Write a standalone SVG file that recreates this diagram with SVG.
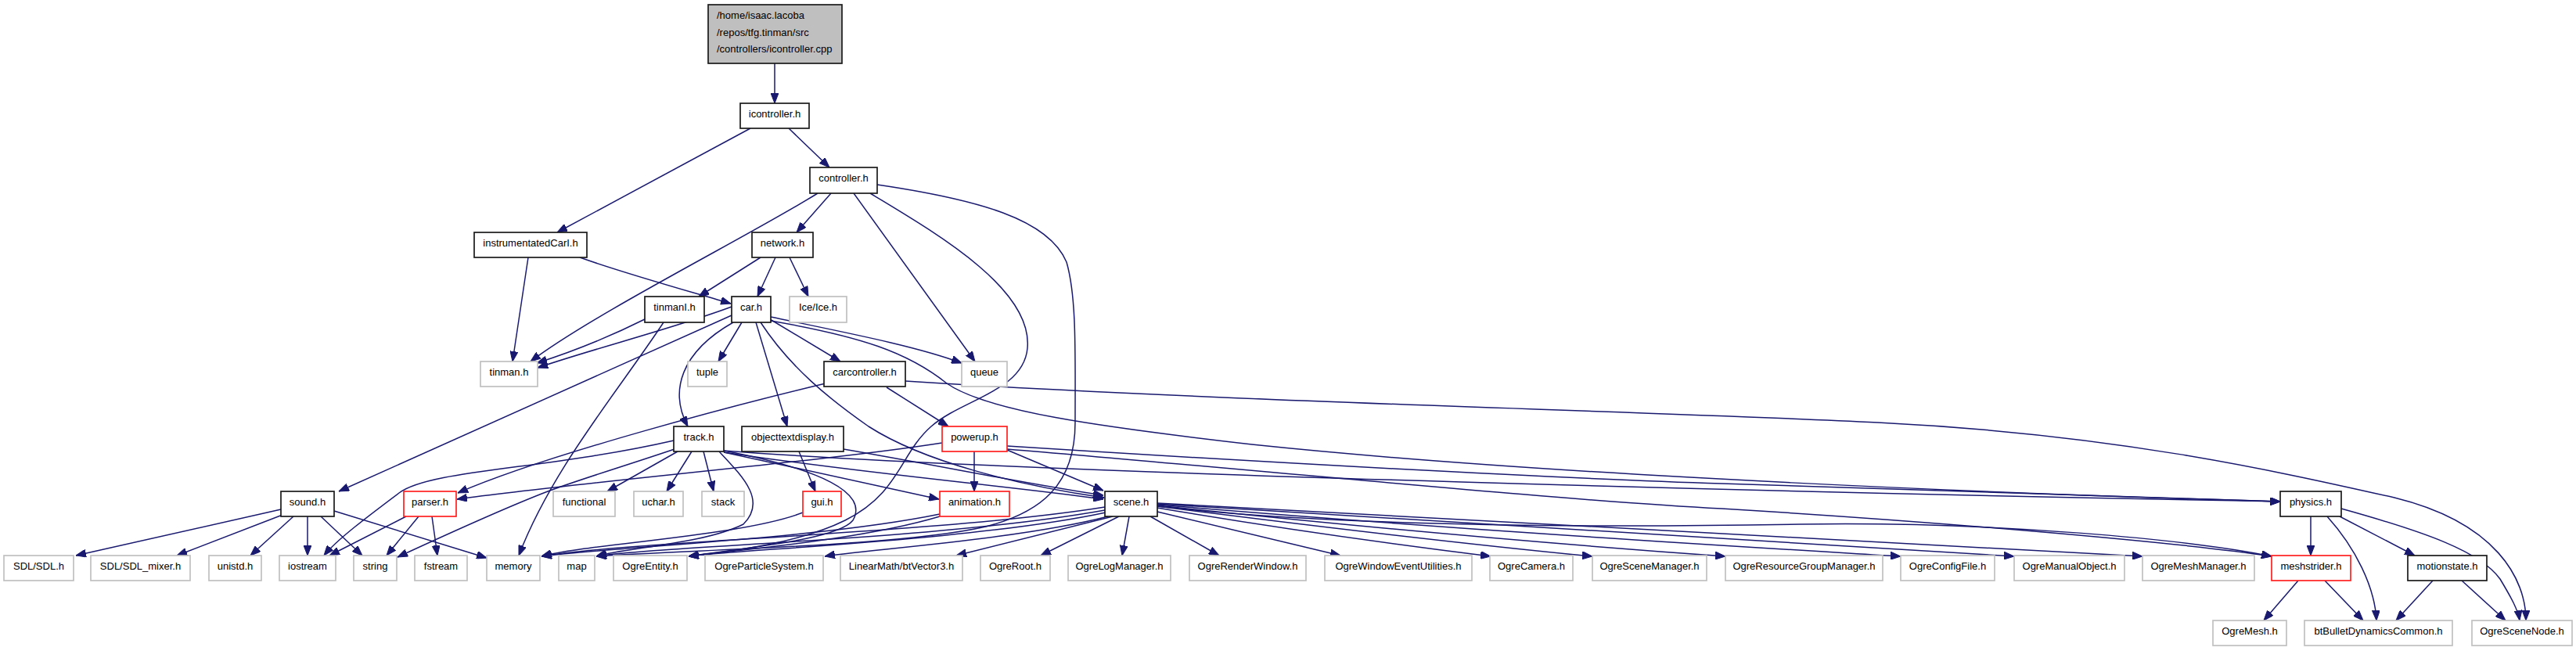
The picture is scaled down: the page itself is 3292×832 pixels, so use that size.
<svg xmlns="http://www.w3.org/2000/svg" width="3292" height="832" viewBox="0 0 3292 832">
<style>
  .nd rect { fill: #ffffff; stroke: #1a1a1a; stroke-width: 1.7; }
  .gy rect { fill: #ffffff; stroke: #c0c0c0; stroke-width: 1.7; }
  .rd rect { fill: #ffffff; stroke: #ff2020; stroke-width: 1.7; }
  .rt rect { fill: #bfbfbf; stroke: #1a1a1a; stroke-width: 1.7; }
  text { font-family: "Liberation Sans", Arial, Helvetica, sans-serif; font-size: 13px; fill: #000000; text-anchor: middle; }
  .rt text { text-anchor: start; }
  #edges path { fill: none; stroke: #191970; stroke-width: 1.5; marker-end: url(#ah); }
</style>
<defs>
  <marker id="ah" markerWidth="13" markerHeight="10" refX="13" refY="5" orient="auto" markerUnits="userSpaceOnUse">
    <path d="M0,0 L13,5 L0,10 z" fill="#191970" stroke="#191970" stroke-width="1"/>
  </marker>
</defs>
<rect x="0" y="0" width="3292" height="832" fill="#ffffff"/>

<g id="edges">
  <path d="M990,81 L990,132"/>
  <path d="M959,164 L712,297"/>
  <path d="M1008,164 L1060,214"/>
  <path d="M1062,247 L1018,297"/>
  <path d="M1045,247 C960,300 760,400 678,462"/>
  <path d="M1091,247 L1246,462"/>
  <path d="M1112,247 C1200,300 1320,370 1313,445 C1308,500 1230,510 1190,545 C1150,580 1150,630 1080,665 C1020,695 930,705 880,711"/>
  <path d="M1121,236 C1250,255 1340,280 1363,335 C1376,380 1374,450 1374,540 C1374,620 1330,655 1260,673 C1150,698 900,702 762,711"/>
  <path d="M675,329 L655,462"/>
  <path d="M741,329 C800,350 880,372 934,388"/>
  <path d="M972,329 L893,379"/>
  <path d="M991,329 L968,379"/>
  <path d="M1009,329 L1033,379"/>
  <path d="M826,407 C780,430 730,450 686,464"/>
  <path d="M848,412 C790,500 705,600 663,710"/>
  <path d="M935,392 C860,420 760,445 687,470"/>
  <path d="M935,403 L433,628"/>
  <path d="M937,412 C870,450 855,500 879,545"/>
  <path d="M948,412 L918,462"/>
  <path d="M966,412 L1006,545"/>
  <path d="M972,412 C1010,470 1060,510 1110,545 C1180,590 1300,620 1411,636"/>
  <path d="M984,408 L1074,462"/>
  <path d="M985,405 C1080,425 1170,442 1229,464"/>
  <path d="M985,410 C1100,430 1160,450 1210,490 C1260,525 1400,545 1600,568 C2000,610 2600,632 2914,641"/>
  <path d="M1055,490 C950,515 700,580 585,630"/>
  <path d="M1133,495 L1212,545"/>
  <path d="M1157,487 C1600,515 2100,525 2400,540 C2700,555 2900,600 3060,636 C3190,668 3228,740 3228,793"/>
  <path d="M1204,566 C1050,590 750,615 584,638"/>
  <path d="M1245,577 L1245,628"/>
  <path d="M1287,575 L1410,627"/>
  <path d="M1287,570 C1600,590 2000,612 2200,618 C2500,628 2800,638 2914,641"/>
  <path d="M1287,574 C1600,600 2000,640 2200,650 C2500,668 2800,695 2903,711"/>
  <path d="M861,563 C700,600 550,600 510,630 C470,660 430,690 414,710"/>
  <path d="M862,574 C800,595 740,613 700,628 C640,651 560,688 508,712"/>
  <path d="M866,577 L776,628"/>
  <path d="M884,577 L852,628"/>
  <path d="M899,577 L912,628"/>
  <path d="M919,577 C950,610 980,640 950,670 C900,695 800,700 762,711"/>
  <path d="M925,576 C1050,600 1110,630 1090,665 C1070,690 950,700 880,711"/>
  <path d="M925,578 L1200,638"/>
  <path d="M925,578 C1100,605 1280,620 1410,638"/>
  <path d="M925,576 C1300,605 2400,632 2914,641"/>
  <path d="M1021,577 L1042,628"/>
  <path d="M1078,574 C1200,595 1320,620 1410,633"/>
  <path d="M359,651 L97,710"/>
  <path d="M361,658 L226,710"/>
  <path d="M375,660 L320,710"/>
  <path d="M393,660 L393,710"/>
  <path d="M410,660 L463,710"/>
  <path d="M427,653 L622,713"/>
  <path d="M519,660 L421,710"/>
  <path d="M535,660 L494,710"/>
  <path d="M552,660 L559,710"/>
  <path d="M1026,655 C950,685 750,695 692,711"/>
  <path d="M1201,657 C1050,688 800,698 692,711"/>
  <path d="M1201,660 C1100,690 950,702 880,711"/>
  <path d="M1412,648 C1200,682 800,692 692,711"/>
  <path d="M1412,652 C1200,690 850,697 762,711"/>
  <path d="M1413,655 C1250,690 950,702 880,711"/>
  <path d="M1416,660 C1300,690 1100,703 1054,711"/>
  <path d="M1422,660 L1222,710"/>
  <path d="M1430,660 L1330,710"/>
  <path d="M1443,660 L1434,710"/>
  <path d="M1470,660 L1558,710"/>
  <path d="M1479,654 L1713,710"/>
  <path d="M1479,649 C1650,678 1800,698 1905,711"/>
  <path d="M1479,647 C1700,675 1900,698 2035,711"/>
  <path d="M1479,646 C1800,680 2050,700 2205,711"/>
  <path d="M1479,645 C1900,680 2250,700 2429,711"/>
  <path d="M1479,644 C2000,676 2400,700 2574,711"/>
  <path d="M1479,643 C2100,675 2550,700 2738,711"/>
  <path d="M1479,647 C1700,672 2000,675 2300,670 C2550,666 2800,690 2903,711"/>
  <path d="M2953,660 L2953,710"/>
  <path d="M2974,660 C3010,700 3035,750 3037,793"/>
  <path d="M2990,660 L3086,710"/>
  <path d="M2992,650 C3100,680 3170,705 3195,740 C3210,765 3218,780 3220,793"/>
  <path d="M2937,742 L2893,793"/>
  <path d="M2971,742 L3020,793"/>
  <path d="M3109,742 L3062,793"/>
  <path d="M3146,742 L3202,793"/>
</g>

<g id="n_root" class="rt"><rect x="905" y="6" width="171" height="75"/><text x="916" y="24">/home/isaac.lacoba</text><text x="916" y="46">/repos/tfg.tinman/src</text><text x="916" y="67">/controllers/icontroller.cpp</text></g>
<g id="n_icontroller_h" class="nd"><rect x="946" y="132" width="88" height="32"/><text x="990" y="149.5">icontroller.h</text></g>
<g id="n_controller_h" class="nd"><rect x="1035" y="214" width="86" height="33"/><text x="1078" y="232">controller.h</text></g>
<g id="n_instrumentatedCarI_h" class="nd"><rect x="606" y="297" width="144" height="32"/><text x="678" y="314.5">instrumentatedCarI.h</text></g>
<g id="n_network_h" class="nd"><rect x="961" y="297" width="78" height="32"/><text x="1000" y="314.5">network.h</text></g>
<g id="n_tinmanI_h" class="nd"><rect x="824" y="379" width="76" height="33"/><text x="862" y="397">tinmanI.h</text></g>
<g id="n_car_h" class="nd"><rect x="935" y="379" width="50" height="33"/><text x="960" y="397">car.h</text></g>
<g id="n_Ice_h" class="gy"><rect x="1009" y="379" width="73" height="33"/><text x="1045.5" y="397">Ice/Ice.h</text></g>
<g id="n_tinman_h" class="gy"><rect x="614" y="462" width="73" height="32"/><text x="650.5" y="479.5">tinman.h</text></g>
<g id="n_tuple" class="gy"><rect x="879" y="462" width="50" height="32"/><text x="904" y="479.5">tuple</text></g>
<g id="n_carcontroller_h" class="nd"><rect x="1053" y="462" width="104" height="32"/><text x="1105" y="479.5">carcontroller.h</text></g>
<g id="n_queue" class="gy"><rect x="1229" y="462" width="58" height="32"/><text x="1258" y="479.5">queue</text></g>
<g id="n_track_h" class="nd"><rect x="861" y="545" width="64" height="32"/><text x="893" y="562.5">track.h</text></g>
<g id="n_objecttextdisplay_h" class="nd"><rect x="948" y="545" width="130" height="32"/><text x="1013" y="562.5">objecttextdisplay.h</text></g>
<g id="n_powerup_h" class="rd"><rect x="1204" y="545" width="83" height="32"/><text x="1245.5" y="562.5">powerup.h</text></g>
<g id="n_sound_h" class="nd"><rect x="359" y="628" width="68" height="32"/><text x="393" y="645.5">sound.h</text></g>
<g id="n_parser_h" class="rd"><rect x="516" y="628" width="67" height="32"/><text x="549.5" y="645.5">parser.h</text></g>
<g id="n_functional" class="gy"><rect x="707" y="628" width="79" height="32"/><text x="746.5" y="645.5">functional</text></g>
<g id="n_uchar_h" class="gy"><rect x="810" y="628" width="63" height="32"/><text x="841.5" y="645.5">uchar.h</text></g>
<g id="n_stack" class="gy"><rect x="897" y="628" width="54" height="32"/><text x="924" y="645.5">stack</text></g>
<g id="n_gui_h" class="rd"><rect x="1026" y="628" width="49" height="32"/><text x="1050.5" y="645.5">gui.h</text></g>
<g id="n_animation_h" class="rd"><rect x="1201" y="628" width="89" height="32"/><text x="1245.5" y="645.5">animation.h</text></g>
<g id="n_scene_h" class="nd"><rect x="1412" y="628" width="67" height="32"/><text x="1445.5" y="645.5">scene.h</text></g>
<g id="n_physics_h" class="nd"><rect x="2914" y="628" width="78" height="32"/><text x="2953" y="645.5">physics.h</text></g>
<g id="n_SDL_h" class="gy"><rect x="5" y="710" width="89" height="32"/><text x="49.5" y="727.5">SDL/SDL.h</text></g>
<g id="n_SDL_mixer_h" class="gy"><rect x="116" y="710" width="127" height="32"/><text x="179.5" y="727.5">SDL/SDL_mixer.h</text></g>
<g id="n_unistd_h" class="gy"><rect x="267" y="710" width="67" height="32"/><text x="300.5" y="727.5">unistd.h</text></g>
<g id="n_iostream" class="gy"><rect x="357" y="710" width="72" height="32"/><text x="393" y="727.5">iostream</text></g>
<g id="n_string" class="gy"><rect x="452" y="710" width="55" height="32"/><text x="479.5" y="727.5">string</text></g>
<g id="n_fstream" class="gy"><rect x="530" y="710" width="67" height="32"/><text x="563.5" y="727.5">fstream</text></g>
<g id="n_memory" class="gy"><rect x="622" y="710" width="68" height="32"/><text x="656" y="727.5">memory</text></g>
<g id="n_map" class="gy"><rect x="714" y="710" width="46" height="32"/><text x="737" y="727.5">map</text></g>
<g id="n_OgreEntity_h" class="gy"><rect x="784" y="710" width="94" height="32"/><text x="831" y="727.5">OgreEntity.h</text></g>
<g id="n_OgreParticleSystem_h" class="gy"><rect x="901" y="710" width="151" height="32"/><text x="976.5" y="727.5">OgreParticleSystem.h</text></g>
<g id="n_btVector3_h" class="gy"><rect x="1074" y="710" width="156" height="32"/><text x="1152" y="727.5">LinearMath/btVector3.h</text></g>
<g id="n_OgreRoot_h" class="gy"><rect x="1253" y="710" width="89" height="32"/><text x="1297.5" y="727.5">OgreRoot.h</text></g>
<g id="n_OgreLogManager_h" class="gy"><rect x="1365" y="710" width="131" height="32"/><text x="1430.5" y="727.5">OgreLogManager.h</text></g>
<g id="n_OgreRenderWindow_h" class="gy"><rect x="1520" y="710" width="149" height="32"/><text x="1594.5" y="727.5">OgreRenderWindow.h</text></g>
<g id="n_OgreWindowEventUtilities_h" class="gy"><rect x="1693" y="710" width="188" height="32"/><text x="1787" y="727.5">OgreWindowEventUtilities.h</text></g>
<g id="n_OgreCamera_h" class="gy"><rect x="1904" y="710" width="106" height="32"/><text x="1957" y="727.5">OgreCamera.h</text></g>
<g id="n_OgreSceneManager_h" class="gy"><rect x="2035" y="710" width="146" height="32"/><text x="2108" y="727.5">OgreSceneManager.h</text></g>
<g id="n_OgreResourceGroupManager_h" class="gy"><rect x="2205" y="710" width="201" height="32"/><text x="2305.5" y="727.5">OgreResourceGroupManager.h</text></g>
<g id="n_OgreConfigFile_h" class="gy"><rect x="2429" y="710" width="120" height="32"/><text x="2489" y="727.5">OgreConfigFile.h</text></g>
<g id="n_OgreManualObject_h" class="gy"><rect x="2574" y="710" width="141" height="32"/><text x="2644.5" y="727.5">OgreManualObject.h</text></g>
<g id="n_OgreMeshManager_h" class="gy"><rect x="2738" y="710" width="143" height="32"/><text x="2809.5" y="727.5">OgreMeshManager.h</text></g>
<g id="n_meshstrider_h" class="rd"><rect x="2903" y="710" width="101" height="32"/><text x="2953.5" y="727.5">meshstrider.h</text></g>
<g id="n_motionstate_h" class="nd"><rect x="3077" y="710" width="101" height="32"/><text x="3127.5" y="727.5">motionstate.h</text></g>
<g id="n_OgreMesh_h" class="gy"><rect x="2828" y="793" width="94" height="32"/><text x="2875" y="810.5">OgreMesh.h</text></g>
<g id="n_btBulletDynamicsCommon_h" class="gy"><rect x="2945" y="793" width="189" height="32"/><text x="3039.5" y="810.5">btBulletDynamicsCommon.h</text></g>
<g id="n_OgreSceneNode_h" class="gy"><rect x="3159" y="793" width="128" height="32"/><text x="3223" y="810.5">OgreSceneNode.h</text></g>
</svg>
